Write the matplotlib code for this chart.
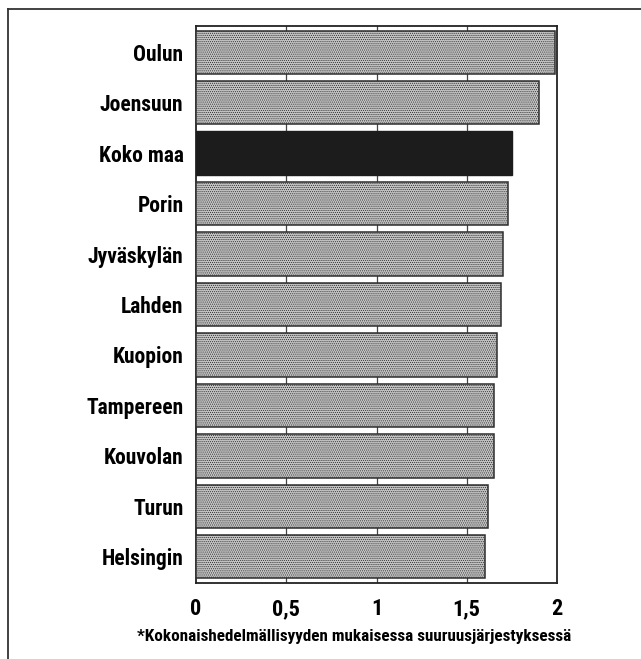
import matplotlib
matplotlib.use("Agg")
import matplotlib.pyplot as plt
from matplotlib.lines import Line2D

categories = ["Oulun", "Joensuun", "Koko maa", "Porin", "Jyväskylän", "Lahden",
              "Kuopion", "Tampereen", "Kouvolan", "Turun", "Helsingin"]
values = [1.99, 1.90, 1.75, 1.73, 1.70, 1.69, 1.67, 1.65, 1.65, 1.62, 1.60]
highlight = "Koko maa"
xticks = [0, 0.5, 1, 1.5, 2]
xticklabels = ["0", "0,5", "1", "1,5", "2"]
caption = "*Kokonaishedelmällisyyden mukaisessa suuruusjärjestyksessä"

fam = ["Liberation Sans Narrow", "Roboto Condensed", "DejaVu Sans"]
plt.rcParams["font.family"] = fam
plt.rcParams["hatch.color"] = "#8a8a8a"
plt.rcParams["hatch.linewidth"] = 0.5

fig = plt.figure(figsize=(6.41, 6.59), dpi=100)
ax = fig.add_axes([196/641, 76/659, 361/641, 557/659])

ypos = list(range(len(categories)))
for y, v, c in zip(ypos, values, categories):
    if c == highlight:
        ax.barh(y, v, height=0.86, color="#1c1c1c", edgecolor="#1c1c1c", linewidth=1.0, zorder=3)
    else:
        ax.barh(y, v, height=0.86, color="#c4c4c4", edgecolor="#2e2e2e", linewidth=1.1,
                hatch="........", zorder=3)

ax.set_xlim(0, 2)
ax.set_ylim(len(categories) - 0.5 + 0.02, -0.5 - 0.02)
ax.set_xticks(xticks)
ax.set_xticklabels(xticklabels, fontsize=16, fontweight="bold")
ax.set_yticks(ypos)
ax.set_yticklabels(categories, fontsize=15.5, fontweight="bold")
ax.tick_params(axis="both", length=0, pad=9)
ax.tick_params(axis="x", pad=11)
for x in [0.5, 1, 1.5]:
    ax.axvline(x, color="#444444", linewidth=0.9, zorder=1)
for s in ax.spines.values():
    s.set_linewidth(1.3)
    s.set_color("#222222")

fig.text(354.5/641, 22/659, caption, ha="center", va="center", fontsize=12.3, fontweight="bold")

# outer frame (top and left lines)
fig.add_artist(Line2D([8/641, 8/641], [0, 1 - 9/659], transform=fig.transFigure, color="#333333", linewidth=1.3))
fig.add_artist(Line2D([8/641, 1], [1 - 9/659, 1 - 9/659], transform=fig.transFigure, color="#333333", linewidth=1.3))

fig.savefig("out.png", dpi=100)
